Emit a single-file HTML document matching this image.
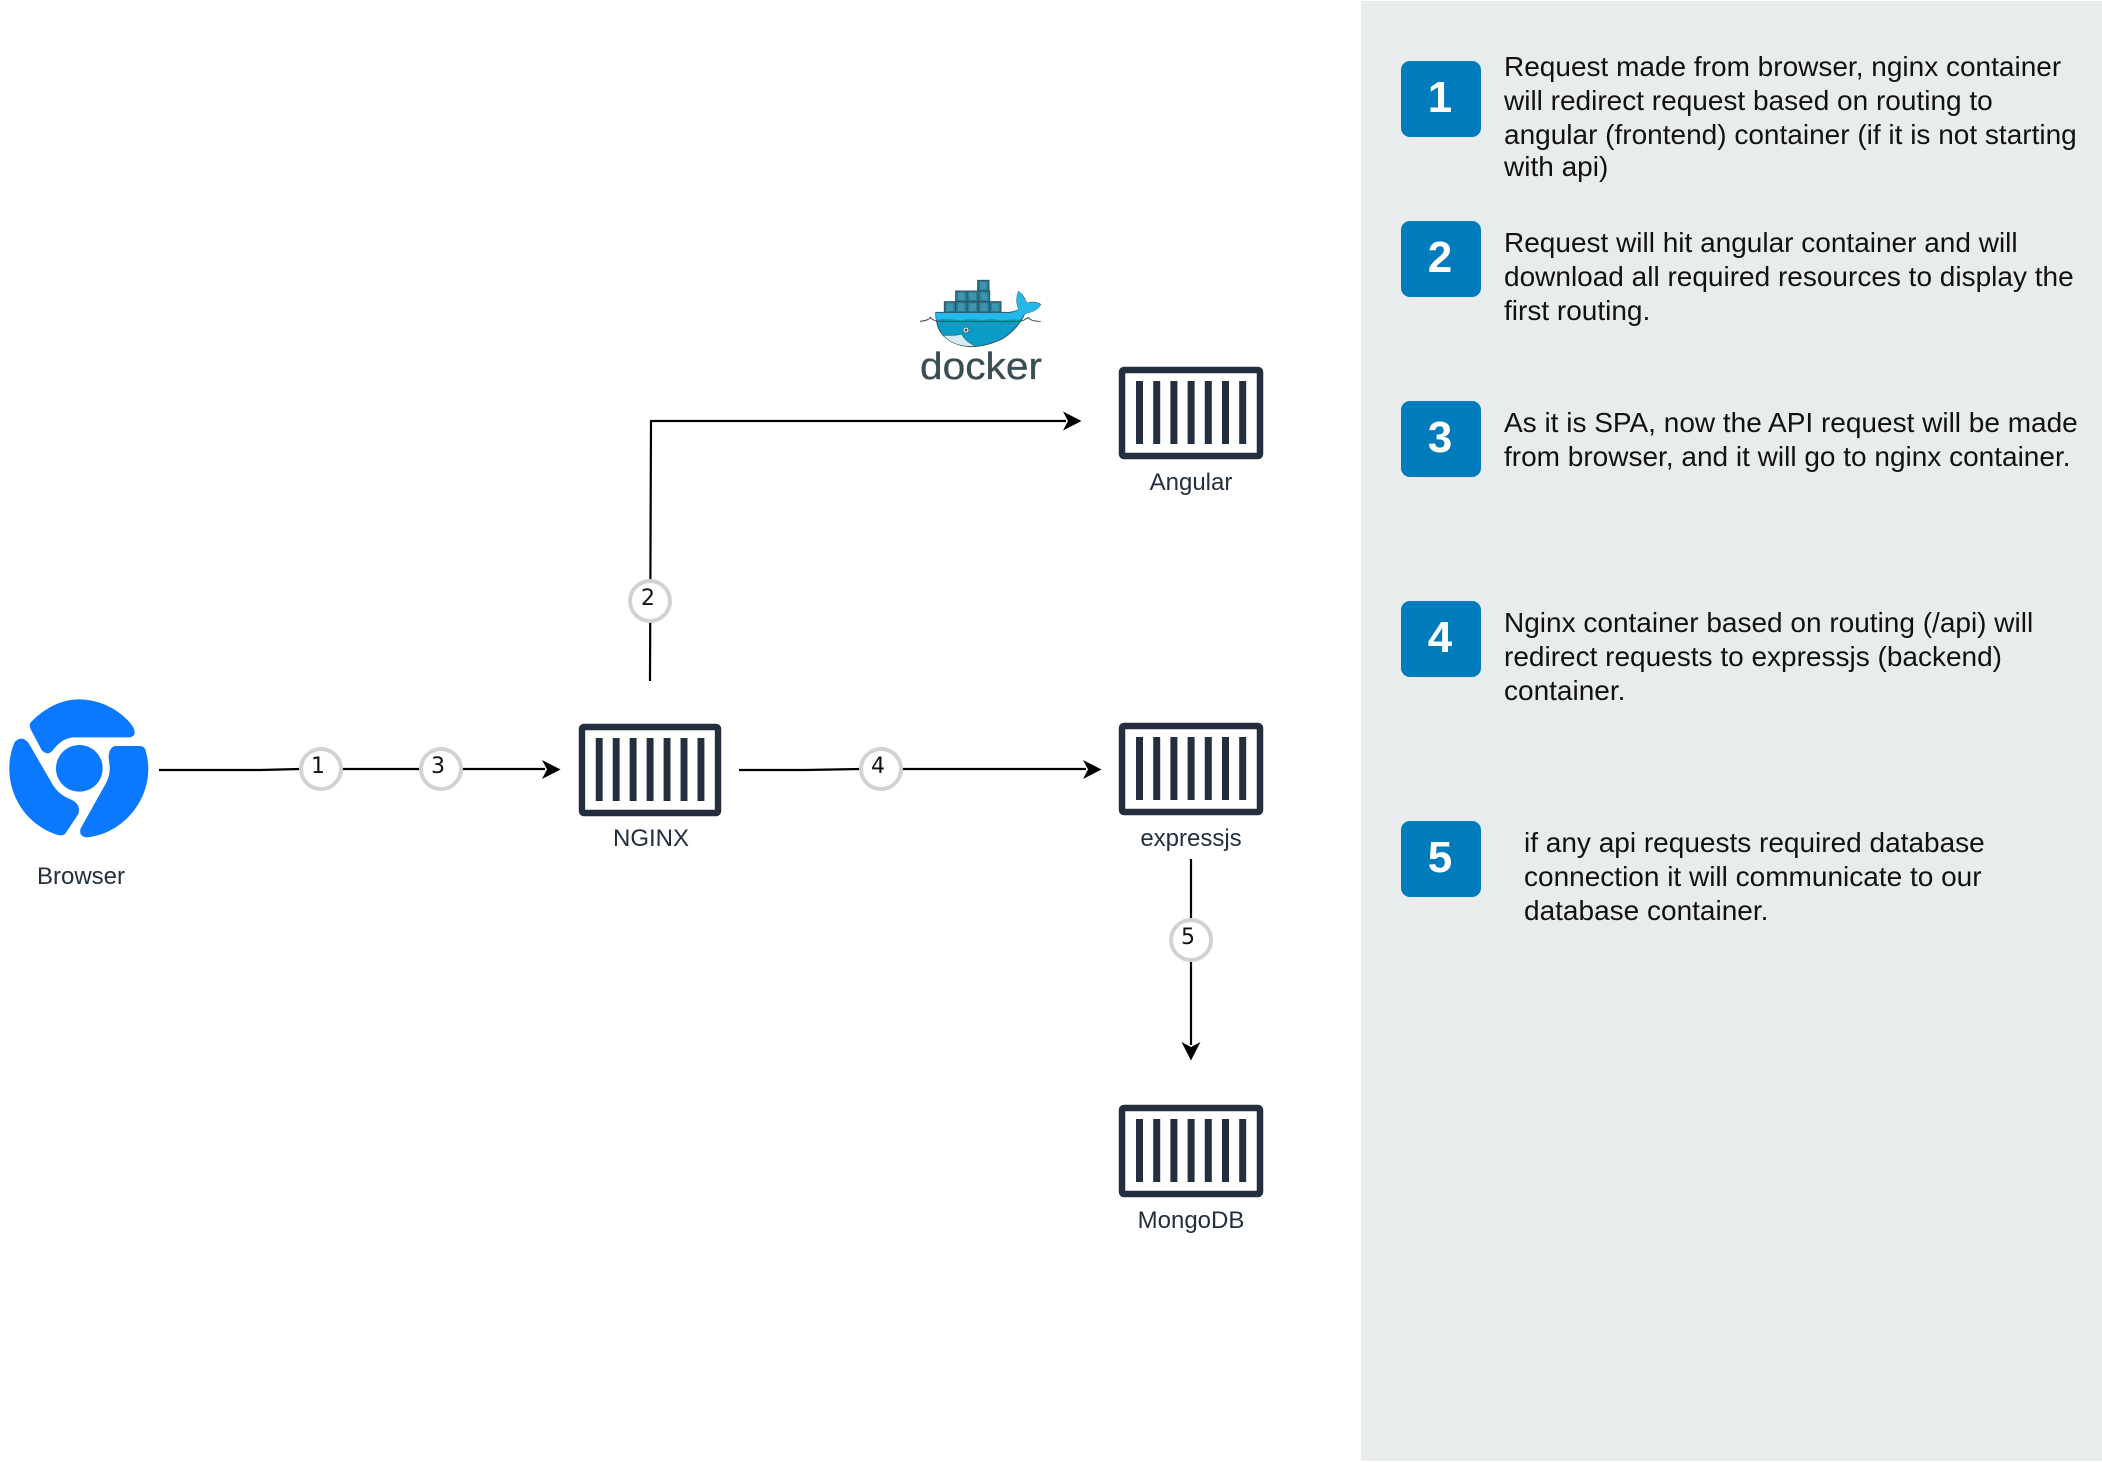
<!DOCTYPE html>
<html>
<head>
<meta charset="utf-8">
<style>
html,body{margin:0;padding:0;background:#fff;width:2102px;height:1462px;overflow:hidden}
svg{display:block;position:absolute;left:0;top:0}
text{font-family:"Liberation Sans",Arial,sans-serif}
.t{font-size:28px;fill:#111}
.lab{font-size:24px;fill:#232f3e;text-anchor:middle}
.n{font-size:44px;font-weight:bold;fill:#fff;text-anchor:middle}
.c{font-size:22px;fill:#111;text-anchor:middle;font-family:"DejaVu Sans","Liberation Sans",sans-serif}
.ln{fill:none;stroke:#000;stroke-width:2.2}
.ring{fill:#fff;stroke:#d2d2d2;stroke-width:4}
</style>
</head>
<body>
<svg width="2102" height="1462" viewBox="0 0 2102 1462" xmlns="http://www.w3.org/2000/svg">
<defs>
<g id="ct">
  <rect x="3" y="3" width="138" height="86" rx="2" fill="#fff" stroke="#232f3e" stroke-width="6.5"/>
  <rect x="17" y="14" width="7" height="63" fill="#232f3e"/>
  <rect x="34.2" y="14" width="7" height="63" fill="#232f3e"/>
  <rect x="51.4" y="14" width="7" height="63" fill="#232f3e"/>
  <rect x="68.6" y="14" width="7" height="63" fill="#232f3e"/>
  <rect x="85.8" y="14" width="7" height="63" fill="#232f3e"/>
  <rect x="103" y="14" width="7" height="63" fill="#232f3e"/>
  <rect x="120.2" y="14" width="7" height="63" fill="#232f3e"/>
</g>
</defs>

<rect width="2102" height="1462" fill="#fff"/>
<rect x="1361" y="1" width="741" height="1460" fill="#e9eced"/>

<!-- Browser icon -->
<g fill="#0a78ff" transform="translate(0,690) scale(0.33333)">
  <circle cx="238" cy="235" r="70"/>
  <path d="M90 100 C130 55 185 28 237 28 C300 28 365 60 400 112 Q412 138 390 142 L220 142 C190 145 175 160 155 185 Q140 197 125 180 L92 118 Q88 108 90 100Z"/>
  <path d="M45 155 Q65 135 85 158 L150 270 Q170 310 205 325 Q245 340 235 372 L200 425 Q192 440 175 435 C90 410 28 330 28 235 C28 205 35 175 45 155Z"/>
  <path d="M345 168 L420 168 Q435 170 437 182 Q445 210 445 235 C445 340 365 430 262 442 Q235 440 242 415 L315 285 Q335 250 327 215 Q322 175 345 168Z"/>
</g>
<text class="lab" x="81" y="884">Browser</text>

<!-- Containers -->
<use href="#ct" x="1119" y="367"/>
<use href="#ct" x="1119" y="723"/>
<use href="#ct" x="1119" y="1105"/>
<g transform="translate(579,724) scale(0.986,1)"><use href="#ct"/></g>
<text class="lab" x="1191" y="490">Angular</text>
<text class="lab" x="651" y="846">NGINX</text>
<text class="lab" x="1191" y="846">expressjs</text>
<text class="lab" x="1191" y="1228">MongoDB</text>

<!-- Docker logo -->
<g transform="translate(910,270) scale(0.33333)">
  <g fill="#1f7f9c" stroke="#3a4d54" stroke-width="3">
    <rect x="103" y="95" width="34" height="33"/>
    <rect x="137" y="95" width="34" height="33"/>
    <rect x="171" y="95" width="34" height="33"/>
    <rect x="205" y="95" width="34" height="33"/>
    <rect x="239" y="95" width="34" height="33"/>
    <rect x="137" y="63" width="34" height="32"/>
    <rect x="171" y="63" width="34" height="32"/>
    <rect x="205" y="63" width="34" height="32"/>
    <rect x="203" y="31" width="34" height="32"/>
  </g>
  <g fill="#3f93ab">
    <rect x="110" y="100" width="20" height="23"/><rect x="144" y="100" width="20" height="23"/><rect x="178" y="100" width="20" height="23"/><rect x="212" y="100" width="20" height="23"/><rect x="246" y="100" width="20" height="23"/>
    <rect x="144" y="68" width="20" height="22"/><rect x="178" y="68" width="20" height="22"/><rect x="212" y="68" width="20" height="22"/><rect x="210" y="36" width="20" height="22"/>
  </g>
  <path d="M77 127 L290 127 Q310 128 327 118 Q315 95 325 65 Q342 75 350 100 Q372 92 392 103 Q380 125 345 130 Q325 175 280 205 Q230 230 180 230 Q110 225 85 175 Q77 150 77 127Z" fill="#0a9cc7" stroke="#3a4d54" stroke-width="2.5"/>
  <path d="M327 118 Q315 95 325 65 Q342 75 350 100 Q372 92 392 103 Q380 125 345 130 L330 150 Q300 145 275 152 Q245 142 215 152 Q185 142 150 152 Q115 142 79 150 L78 129 L290 129 Q310 130 327 118Z" fill="#24b8eb"/>
  <path d="M30 154 Q55 152 62 142 Q68 154 95 154 L330 154 Q345 150 355 142 Q362 154 392 154" fill="none" stroke="#3a4d54" stroke-width="3"/>
  <path d="M100 196 Q135 198 155 193 Q165 215 197 229 Q130 232 100 196Z" fill="#d4edf1" stroke="#3a4d54" stroke-width="1.5"/>
  <circle cx="168" cy="180" r="9" fill="#d4edf1" stroke="#3a4d54" stroke-width="2"/>
  <circle cx="168" cy="180" r="4" fill="#3a4d54"/>
</g>
<text x="920" y="379" font-size="38" fill="#3a4d54" stroke="#3a4d54" stroke-width="0.3" textLength="122" lengthAdjust="spacingAndGlyphs">docker</text>

<!-- Connectors -->
<path class="ln" d="M159 770 L260 770 L300 769 L545 769"/>
<path d="M560.6 769.5 L542 760 L547 769.5 L542 779 Z" fill="#000"/>
<path class="ln" d="M739 770 L805 770 L860 769 L1086 769"/>
<path d="M1101.5 769.5 L1083 760 L1088 769.5 L1083 779 Z" fill="#000"/>
<path class="ln" d="M650 681 L651 421 L1066 421"/>
<path d="M1081.5 421 L1063 411.5 L1068 421 L1063 430.5 Z" fill="#000"/>
<path class="ln" d="M1191 859 L1191 1045"/>
<path d="M1191 1060.5 L1181.5 1042 L1191 1047 L1200.5 1042 Z" fill="#000"/>

<!-- Circles -->
<circle class="ring" cx="321" cy="769" r="20"/>
<text class="c" x="318" y="773">1</text>
<circle class="ring" cx="441" cy="769" r="20"/>
<text class="c" x="438" y="773">3</text>
<circle class="ring" cx="650" cy="601" r="20"/>
<text class="c" x="648" y="605">2</text>
<circle class="ring" cx="881" cy="769" r="20"/>
<text class="c" x="878" y="773">4</text>
<circle class="ring" cx="1191" cy="940" r="20"/>
<text class="c" x="1188" y="944">5</text>

<!-- Legend boxes -->
<g fill="#007cbc">
  <rect x="1401" y="61" width="80" height="76" rx="9"/>
  <rect x="1401" y="221" width="80" height="76" rx="9"/>
  <rect x="1401" y="401" width="80" height="76" rx="9"/>
  <rect x="1401" y="601" width="80" height="76" rx="9"/>
  <rect x="1401" y="821" width="80" height="76" rx="9"/>
</g>
<text class="n" x="1440" y="112">1</text>
<text class="n" x="1440" y="272">2</text>
<text class="n" x="1440" y="452">3</text>
<text class="n" x="1440" y="652">4</text>
<text class="n" x="1440" y="872">5</text>

<!-- Legend text -->
<text class="t" x="1504" y="76">Request made from browser, nginx container</text>
<text class="t" x="1504" y="110">will redirect request based on routing to</text>
<text class="t" x="1504" y="144">angular (frontend) container (if it is not starting</text>
<text class="t" x="1504" y="176">with api)</text>

<text class="t" x="1504" y="252">Request will hit angular container and will</text>
<text class="t" x="1504" y="286">download all required resources to display the</text>
<text class="t" x="1504" y="320">first routing.</text>

<text class="t" x="1504" y="432">As it is SPA, now the API request will be made</text>
<text class="t" x="1504" y="466">from browser, and it will go to nginx container.</text>

<text class="t" x="1504" y="632">Nginx container based on routing (/api) will</text>
<text class="t" x="1504" y="666">redirect requests to expressjs (backend)</text>
<text class="t" x="1504" y="700">container.</text>

<text class="t" x="1524" y="852">if any api requests required database</text>
<text class="t" x="1524" y="886">connection it will communicate to our</text>
<text class="t" x="1524" y="920">database container.</text>
</svg>
</body>
</html>
